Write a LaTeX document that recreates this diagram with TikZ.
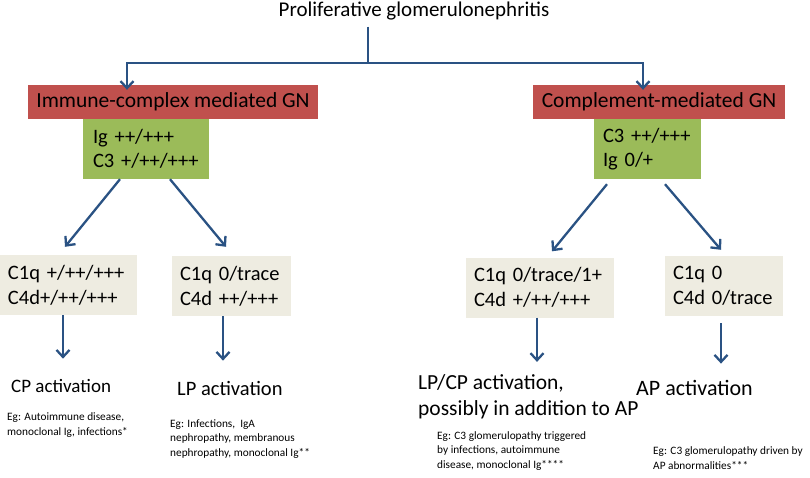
\documentclass[tikz,border=0pt]{standalone}
\usepackage{fontspec}
\setmainfont{Carlito}
\usepackage{xcolor}
\usepackage{tikz}
\usetikzlibrary{arrows.meta,positioning}
\definecolor{gnred}{HTML}{C0504D}
\definecolor{gngreen}{HTML}{9BBB59}
\definecolor{gngrey}{HTML}{EEECE1}
\definecolor{gnblue}{HTML}{2A5283}

\begin{document}
\begin{tikzpicture}[
    x=1pt, y=-1pt,
    conn/.style={line width=2.3pt, draw=gnblue},
    arrow/.style={conn, -{Straight Barb[length=7pt, width=13pt, line width=2.3pt]}},
    gnbox/.style={fill=gnred, minimum height=34pt, inner sep=0pt,
      font=\fontsize{21.5}{25}\selectfont},
    marker/.style={fill=gngreen, align=left, minimum height=60pt, inner xsep=10pt,
      inner ysep=0pt, font=\fontsize{20.5}{24.5}\selectfont},
    stain/.style={fill=gngrey, align=left, minimum height=60pt, inner xsep=8pt,
      inner ysep=0pt, font=\fontsize{20.5}{25}\selectfont},
    pathway/.style={anchor=base west, inner sep=0pt, align=left},
    note/.style={anchor=base west, inner sep=0pt, align=left,
      font=\fontsize{11.3}{14.5}\selectfont}
  ]
    \useasboundingbox (0,0) rectangle (810,478);

    \node[anchor=base, font=\fontsize{21}{25}\selectfont] (pgn) at (414,16.5) {Proliferative glomerulonephritis};
    \coordinate (split) at (368,63);

    \node[gnbox, minimum width=290pt] (imm) at (173,102) {Immune-complex mediated GN};
    \node[gnbox, minimum width=252pt] (cmp) at (659,102) {Complement-mediated GN};

    \node[marker, text width=106pt] (igL) at (146,149) {Ig ++/+++\\C3 +/++/+++};
    \node[marker, text width=89pt, inner xsep=9pt] (igR) at (647.5,149) {C3 ++/+++\\Ig 0/+};

    \node[stain, text width=121pt] (c1L) at (68.5,285) {C1q +/++/+++\\C4d+/++/+++};
    \node[stain, text width=103pt] (c2L) at (231.5,286) {C1q 0/trace\\C4d ++/+++};
    \node[stain, text width=132pt] (c1R) at (540,287.5) {C1q 0/trace/1+\\C4d +/++/+++};
    \node[stain, text width=102pt] (c2R) at (724,286) {C1q 0\\C4d 0/trace};

    \node[pathway, font=\fontsize{19}{23}\selectfont] (cp) at (11,392) {CP activation};
    \node[pathway, font=\fontsize{20.5}{24}\selectfont] (lp) at (177,395) {LP activation};
    \node[pathway, font=\fontsize{21.5}{26}\selectfont] (lpcp) at (418,415) {LP/CP activation,\\possibly in addition to AP};
    \node[pathway, font=\fontsize{22}{26}\selectfont] (ap) at (636,395) {AP activation};

    \node[note] (egcp) at (7,435) {Eg: Autoimmune disease,\\monoclonal Ig, infections*};
    \node[note] (eglp) at (170,456) {Eg: Infections,~ IgA\\nephropathy, membranous\\nephropathy, monoclonal Ig**};
    \node[note] (eglpcp) at (437,468) {Eg: C3 glomerulopathy triggered\\by infections, autoimmune\\disease, monoclonal Ig****};
    \node[note] (egap) at (653,469) {Eg: C3 glomerulopathy driven by\\AP abnormalities***};

    % top split
    \draw[conn, shorten <=3pt] (split |- pgn.south) -- (split);
    \draw[arrow, shorten >=-5pt] (split) -| ([xshift=-46pt]imm.north);
    \draw[arrow, shorten >=-5pt] (split) -| ([xshift=-16pt]cmp.north);

    % staining patterns
    \draw[arrow] ([xshift=-26pt]igL.south) -- ([xshift=-3.5pt, yshift=8pt]c1L.north);
    \draw[arrow] ([xshift=24pt]igL.south) -- ([xshift=-5.5pt, yshift=9pt]c2L.north);
    \draw[arrow] ([xshift=-40.5pt, yshift=-5pt]igR.south) -- ([xshift=12pt, yshift=6pt]c1R.north);
    \draw[arrow] ([xshift=17.5pt, yshift=-5pt]igR.south) -- ([xshift=-3pt, yshift=6pt]c2R.north);

    % pathways
    \draw[arrow, shorten >=20pt] ([xshift=-5.5pt]c1L.south) -- ([xshift=-5.5pt]c1L.south |- cp.north);
    \draw[arrow, shorten >=20pt] ([xshift=-8.5pt]c2L.south) -- ([xshift=-8.5pt]c2L.south |- lp.north);
    \draw[arrow, shorten >=12pt] ([xshift=-3pt]c1R.south) -- ([xshift=-3pt]c1R.south |- lpcp.north);
    \draw[arrow, shorten <=7pt, shorten >=16pt] ([xshift=-3pt]c2R.south) -- ([xshift=-3pt]c2R.south |- ap.north);
\end{tikzpicture}
\end{document}
